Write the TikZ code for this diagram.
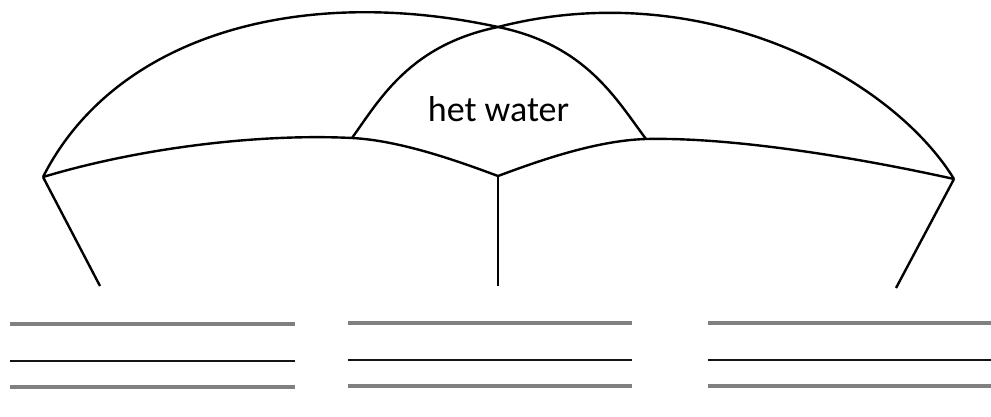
\documentclass[tikz,border=0pt]{standalone}
\usepackage{fontspec}
\setmainfont{Carlito}
\begin{document}
\begin{tikzpicture}[x=1pt,y=-1pt,
  arcline/.style={line width=2.4pt, line join=miter},
  grayrule/.style={line width=3.2pt, black!50},
  darkrule/.style={line width=2.4pt, black!92}]
\useasboundingbox (0,0) rectangle (991,416);
% key points
\coordinate (LA) at (43,177);
\coordinate (RA) at (954,179);
\coordinate (CV) at (498,176);
\coordinate (TX) at (498,27);
\coordinate (IL) at (352,138);
\coordinate (IR) at (646,139);
\coordinate (LB) at (100,286);
\coordinate (RB) at (896,288);
\coordinate (CB) at (498,286);
% left big arc (outer left + inner right)
\draw[arcline] (LA) .. controls (115,35) and (300,-16) .. (TX)
               .. controls (586,45) and (616,99) .. (IR);
% right big arc (outer right + inner left)
\draw[arcline] (RA) .. controls (890,75) and (700,-25) .. (TX)
               .. controls (410,45) and (380,99) .. (IL);
% lower arcs
\draw[arcline] (LA) .. controls (143,147) and (262,133.5) .. (IL)
               .. controls (402,140.5) and (463,163) .. (CV);
\draw[arcline] (CV) .. controls (533,163) and (594,140.5) .. (IR)
               .. controls (736,137) and (864,159) .. (RA);
% legs
\draw[arcline] (LA) -- (LB);
\draw[arcline] (CV) -- (CB);
\draw[arcline] (RA) -- (RB);
% label
\node[anchor=base, font=\fontsize{36}{40}\selectfont, inner sep=0pt] (lbl) at (498.5,121) {het water};
% answer lines
\foreach \xa/\xb/\ya/\yb/\yc [count=\i] in {10/295/324/361/387, 348/632/323/360/386, 708/991/323/360/386}{
  \coordinate (a\i) at (\xa,\ya); \coordinate (b\i) at (\xb,\ya);
  \coordinate (c\i) at (\xa,\yb); \coordinate (d\i) at (\xb,\yb);
  \coordinate (e\i) at (\xa,\yc); \coordinate (f\i) at (\xb,\yc);
  \draw[grayrule] (a\i) -- (b\i);
  \draw[darkrule] (c\i) -- (d\i);
  \draw[grayrule] (e\i) -- (f\i);
}
\end{tikzpicture}
\end{document}
